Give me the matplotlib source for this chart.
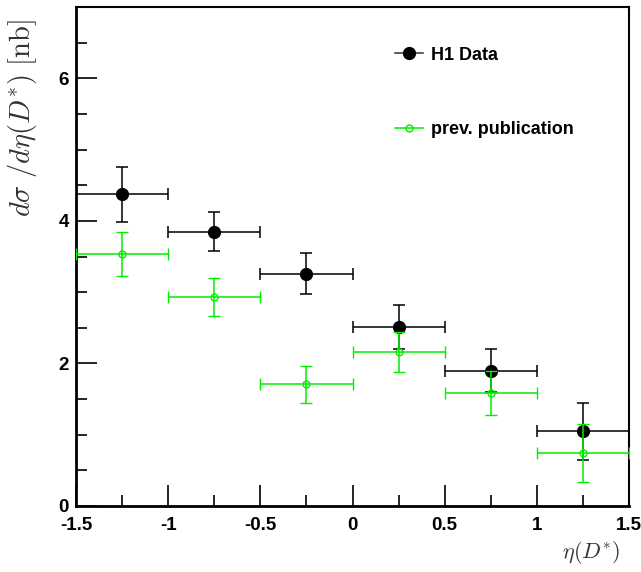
import matplotlib
matplotlib.use("Agg")
import matplotlib.pyplot as plt
from matplotlib.ticker import MultipleLocator
from matplotlib.lines import Line2D

plt.rcParams['mathtext.fontset'] = 'cm'

x_centers = [-1.25, -0.75, -0.25, 0.25, 0.75, 1.25]
x_halfwidth = [0.25, 0.25, 0.25, 0.25, 0.25, 0.25]

h1_values = [4.37, 3.85, 3.26, 2.51, 1.90, 1.05]
h1_errors = [0.39, 0.27, 0.29, 0.31, 0.30, 0.40]

prev_values = [3.53, 2.93, 1.71, 2.16, 1.58, 0.74]
prev_errors = [0.31, 0.27, 0.26, 0.28, 0.31, 0.41]

x_ticks = [-1.5, -1, -0.5, 0, 0.5, 1, 1.5]
x_ticklabels = ['-1.5', '-1', '-0.5', '0', '0.5', '1', '1.5']
y_ticks = [0, 2, 4, 6]
y_ticklabels = ['0', '2', '4', '6']

fig = plt.figure(figsize=(6.41, 5.72), dpi=100)
ax = fig.add_axes([76/641, 1 - 506/572, (629 - 76)/641, (506 - 7)/572])

green = '#00ee00'
ax.errorbar(x_centers, h1_values, xerr=x_halfwidth, yerr=h1_errors,
            fmt='o', color='black', ecolor='black', markersize=8.5,
            elinewidth=1.1, capsize=4.5, capthick=1.1, zorder=2)
ax.errorbar(x_centers, prev_values, xerr=x_halfwidth, yerr=prev_errors,
            fmt='o', color=green, ecolor=green, markersize=5,
            markerfacecolor='none', markeredgecolor=green, markeredgewidth=1.0,
            elinewidth=1.1, capsize=4.5, capthick=1.1, zorder=3)

ax.set_xlim(-1.5, 1.5)
ax.set_ylim(0, 7)

ax.set_xticks(x_ticks)
ax.set_xticklabels(x_ticklabels)
ax.set_yticks(y_ticks)
ax.set_yticklabels(y_ticklabels)
ax.xaxis.set_minor_locator(MultipleLocator(0.25))
ax.yaxis.set_minor_locator(MultipleLocator(0.5))

ax.tick_params(axis='both', which='major', direction='in', length=15, width=1.2,
               top=False, right=False, labelsize=13.5)
ax.tick_params(axis='x', which='major', pad=8)
ax.tick_params(axis='y', which='major', pad=5)
ax.tick_params(axis='both', which='minor', direction='in', length=8, width=1.2,
               top=False, right=False)
for lab in ax.get_xticklabels() + ax.get_yticklabels():
    lab.set_fontweight('bold')
    lab.set_family('Liberation Sans')

for side in ['left', 'bottom']:
    ax.spines[side].set_linewidth(2.0)
for side in ['top', 'right']:
    ax.spines[side].set_linewidth(1.5)

fig.text(22/641, 1 - 118/572, r'$d\sigma\ /d\eta(D^{*})\ [\mathrm{nb}]$',
         rotation=90, fontsize=20.5, ha='center', va='center', color='#333333')
fig.text(591/641, 1 - 552/572, r'$\eta(D^{*})$', fontsize=16,
         ha='center', va='center', color='#333333')

handles = [
    Line2D([], [], color='#333333', lw=1.1, marker='o', markersize=8.5,
           markerfacecolor='black', markeredgecolor='black'),
    Line2D([], [], color=green, lw=1.1, marker='o', markersize=5,
           markerfacecolor='none', markeredgecolor=green),
]
leg = ax.legend(handles, ['H1 Data', 'prev. publication'],
                loc='upper left', bbox_to_anchor=(0.548, 0.953), frameon=False,
                prop={'family': 'Liberation Sans', 'weight': 'bold', 'size': 13},
                labelspacing=3.2, handlelength=1.55, handletextpad=0.4,
                borderpad=0.4)

fig.savefig('out.png', dpi=100)
